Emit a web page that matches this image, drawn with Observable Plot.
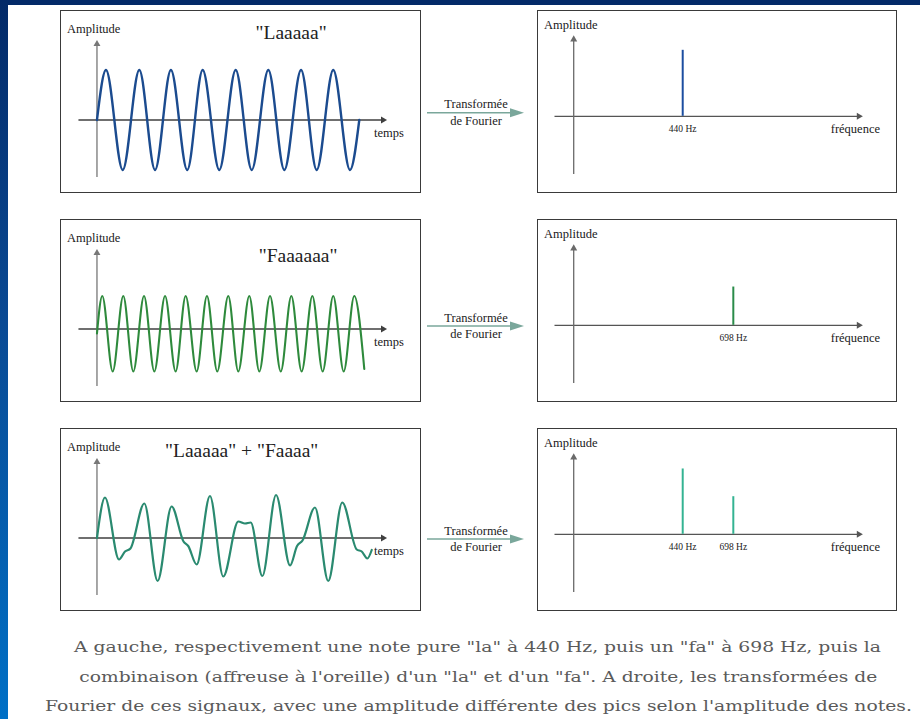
<!DOCTYPE html>
<html lang="fr">
<head>
<meta charset="utf-8">
<script src="https://cdn.jsdelivr.net/npm/d3@7"></script>
<script src="https://cdn.jsdelivr.net/npm/@observablehq/plot@0.6"></script>
<style>
  html, body { margin:0; padding:0; background:#fff; }
  #page { position:relative; width:920px; height:719px; overflow:hidden; background:#fff; }
  #topbar { position:absolute; left:0; top:0; width:920px; height:5px; background:#032a68; }
  #sidebar { position:absolute; left:0; top:0; width:8px; height:719px; background:linear-gradient(to bottom,#032a68 0%,#0a4a94 45%,#0070c6 100%); }
  .box { position:absolute; box-sizing:border-box; border:1.5px solid #3a3a3a; background:#fff; }
  .box svg { display:block; overflow:visible; }
  .cap { position:absolute; left:0; width:956px; text-align:center; white-space:nowrap; font-family:"DejaVu Serif", serif; font-size:15.5px; color:#5a5a5a; line-height:20px; }
  .cap span { display:inline-block; transform-origin:50% 50%; }
</style>
</head>
<body>
<div id="page">
  <div id="topbar"></div>
  <div id="sidebar"></div>
  <svg id="deco" width="920" height="719" style="position:absolute;left:0;top:0"></svg>
</div>
<script>
// ---------------- data ----------------
const titles = ['"Laaaaa"', '"Faaaaaa"', '"Laaaaa" + "Faaaa"'];

// "la" signal: time (ms) / amplitude at start, extrema, end
const laT = [0, 0.63, 1.80, 2.96, 4.06, 5.17, 6.31, 7.39, 8.55, 9.70, 10.82, 11.98, 13.10, 14.27, 15.36, 16.52, 17.69, 18.34];
const laA = [0, 1, -1, 1, -1, 1, -1, 1, -1, 1, -1, 1, -1, 1, -1, 1, -1, 0];

// "fa" signal
const faT = [0, 0.37, 1.10, 1.84, 2.54, 3.29, 4.01, 4.76, 5.50, 6.20, 6.97, 7.69, 8.41, 9.18, 9.88, 10.65, 11.35, 12.10, 12.85, 13.59, 14.31, 15.06, 15.78, 16.52, 17.25, 17.99, 18.69];
const faA = [-0.09, 0.66, -0.85, 0.66, -0.85, 0.66, -0.85, 0.66, -0.85, 0.66, -0.85, 0.66, -0.85, 0.66, -0.85, 0.66, -0.85, 0.66, -0.85, 0.66, -0.85, 0.66, -0.85, 0.66, -0.85, 0.66, -0.80];

// "la" + "fa" signal
const mixT = [0, 0.56, 1.54, 1.96, 2.34, 3.31, 4.24, 5.22, 6.05, 6.38, 6.97, 7.90, 8.83, 9.88, 10.35, 10.75, 11.56, 12.52, 13.50, 13.99, 14.37, 15.24, 16.17, 17.15, 18.16, 18.51, 18.90, 19.21];
const mixA = [0, 0.81, -0.43, -0.27, -0.21, 0.69, -0.86, 0.63, -0.07, -0.16, -0.53, 0.84, -0.77, 0.33, 0.29, 0.31, -0.76, 0.86, -0.55, -0.16, -0.05, 0.61, -0.86, 0.71, -0.23, -0.27, -0.41, -0.24];

// spectra (frequency in Hz / relative amplitude)
const laFreq = [440], laAmp = [1.0];
const faFreq = [698], faAmp = [0.58];
const mixFreq = [440, 698], mixAmp = [0.99, 0.57];

const labelAmplitude = "Amplitude";
const labelTime = "temps";
const labelFreq = "fréquence";
const arrowText = ["Transformée", "de Fourier"];
const captionLines = [
  'A gauche, respectivement une note pure "la" à 440 Hz, puis un "fa" à 698 Hz, puis la',
  'combinaison (affreuse à l\'oreille) d\'un "la" et d\'un "fa". A droite, les transformées de',
  'Fourier de ces signaux, avec une amplitude différente des pics selon l\'amplitude des notes.'
];

// ---------------- rendering ----------------
const SERIF = "'Liberation Serif', 'Times New Roman', serif";
const page = document.getElementById("page");

function leftPanel(t, a, color, sw, title, tx, ty) {
  const data = t.map((d, i) => ({t: d, a: a[i]}));
  return Plot.plot({
    width: 358, height: 180, margin: 0,
    x: {domain: [-2.48, 22.55], axis: null},
    y: {domain: [-1.43, 2.17], axis: null},
    style: {background: "transparent", overflow: "visible"},
    marks: [
      Plot.ruleY([0], {x1: -1.26, x2: 20.0, stroke: "#3f3f3f", strokeWidth: 1.3}),
      Plot.dot([0], {x: 20.0, y: 0, symbol: "triangle", rotate: 90, r: 2.6, fill: "#3f3f3f"}),
      Plot.ruleX([0], {y1: -1.15, y2: 1.52, stroke: "#777", strokeWidth: 1.3}),
      Plot.dot([0], {x: 0, y: 1.52, symbol: "triangle", r: 2.6, fill: "#777"}),
      Plot.line(data, {x: "t", y: "a", curve: "monotone-x", stroke: color, strokeWidth: sw}),
      Plot.text([labelAmplitude], {x: -2.10, y: 1.82, text: d => d, textAnchor: "start", fontSize: 12.5, fontFamily: SERIF, fill: "#1a1a1a"}),
      Plot.text([labelTime], {x: 19.37, y: -0.26, text: d => d, textAnchor: "start", fontSize: 12.5, fontFamily: SERIF, fill: "#1a1a1a"}),
      Plot.text([title], {x: tx, y: ty, text: d => d, fontSize: 19.5, fontFamily: SERIF, fill: "#222"})
    ]
  });
}

// schematic frequency axis: the vertical axis sits at F0 on the frequency scale
const F0 = -115.8;
function rightPanel(freq, amp, color) {
  const data = freq.map((f, i) => ({f, a: amp[i]}));
  return Plot.plot({
    width: 357, height: 180, margin: 0,
    x: {domain: [-295.3, 1525], axis: null},
    y: {domain: [-1.139, 1.588], axis: null},
    style: {background: "transparent", overflow: "visible"},
    marks: [
      Plot.ruleY([0], {x1: -211.2, x2: 1338, stroke: "#555", strokeWidth: 1.3}),
      Plot.dot([0], {x: 1338, y: 0, symbol: "triangle", rotate: 90, r: 2.6, fill: "#555"}),
      Plot.ruleX([F0], {y1: -0.883, y2: 1.166, stroke: "#6a6a6a", strokeWidth: 1.3}),
      Plot.dot([F0], {x: d => d, y: 1.166, symbol: "triangle", r: 2.6, fill: "#6a6a6a"}),
      Plot.ruleX(data, {x: "f", y1: 0, y2: "a", stroke: color, strokeWidth: 2}),
      Plot.text(data, {x: "f", y: -0.19, text: d => `${d.f} Hz`, fontSize: 9.5, fontFamily: SERIF, fill: "#1a1a1a"}),
      Plot.text([labelAmplitude], {x: -267.3, y: 1.38, text: d => d, textAnchor: "start", fontSize: 12.5, fontFamily: SERIF, fill: "#1a1a1a"}),
      Plot.text([labelFreq], {x: 1194.7, y: -0.19, text: d => d, textAnchor: "start", fontSize: 12.5, fontFamily: SERIF, fill: "#1a1a1a"})
    ]
  });
}

function addBox(left, top, w, h, node) {
  const div = document.createElement("div");
  div.className = "box";
  div.style.left = left + "px"; div.style.top = top + "px";
  div.style.width = w + "px"; div.style.height = h + "px";
  div.appendChild(node);
  page.appendChild(div);
}

const rows = [
  {top: 10,  left: leftPanel(laT, laA, "#1b4b8f", 2.4, titles[0], 13.57, 1.74),  right: rightPanel(laFreq, laAmp, "#1c4ea0"), arrowY: 112.7},
  {top: 219, left: leftPanel(faT, faA, "#2e8a3c", 2.1, titles[1], 14.06, 1.47),  right: rightPanel(faFreq, faAmp, "#2a8c4a"), arrowY: 326},
  {top: 428, left: leftPanel(mixT, mixA, "#2a8a70", 2.2, titles[2], 10.12, 1.75), right: rightPanel(mixFreq, mixAmp, "#34b392"), arrowY: 539}
];

const deco = d3.select("#deco");
rows.forEach(r => {
  addBox(60, r.top, 361, 183, r.left);
  addBox(537, r.top, 360, 183, r.right);
  const y = r.arrowY;
  deco.append("line").attr("x1", 427).attr("x2", 512).attr("y1", y).attr("y2", y)
    .attr("stroke", "#7aa79b").attr("stroke-width", 1.5);
  deco.append("path").attr("d", `M524,${y}L510,${y - 4.5}L510,${y + 4.5}Z`).attr("fill", "#7aa79b");
  deco.append("text").attr("x", 476).attr("y", y - 8.5).attr("text-anchor", "middle")
    .attr("dominant-baseline", "central").attr("font-family", SERIF).attr("font-size", 12.5)
    .attr("fill", "#222").text(arrowText[0]);
  deco.append("text").attr("x", 476).attr("y", y + 8.3).attr("text-anchor", "middle")
    .attr("dominant-baseline", "central").attr("font-family", SERIF).attr("font-size", 12.5)
    .attr("fill", "#222").text(arrowText[1]);
});

// caption
const capCenters = [647, 677, 706];
const capWidths = [807, 798, 867];
captionLines.forEach((line, i) => {
  const div = document.createElement("div");
  div.className = "cap";
  div.style.top = (capCenters[i] - 10) + "px";
  const span = document.createElement("span");
  span.textContent = line;
  div.appendChild(span);
  page.appendChild(div);
  const w = span.getBoundingClientRect().width;
  if (w > 0) span.style.transform = `scaleX(${capWidths[i] / w})`;
});
</script>
</body>
</html>
